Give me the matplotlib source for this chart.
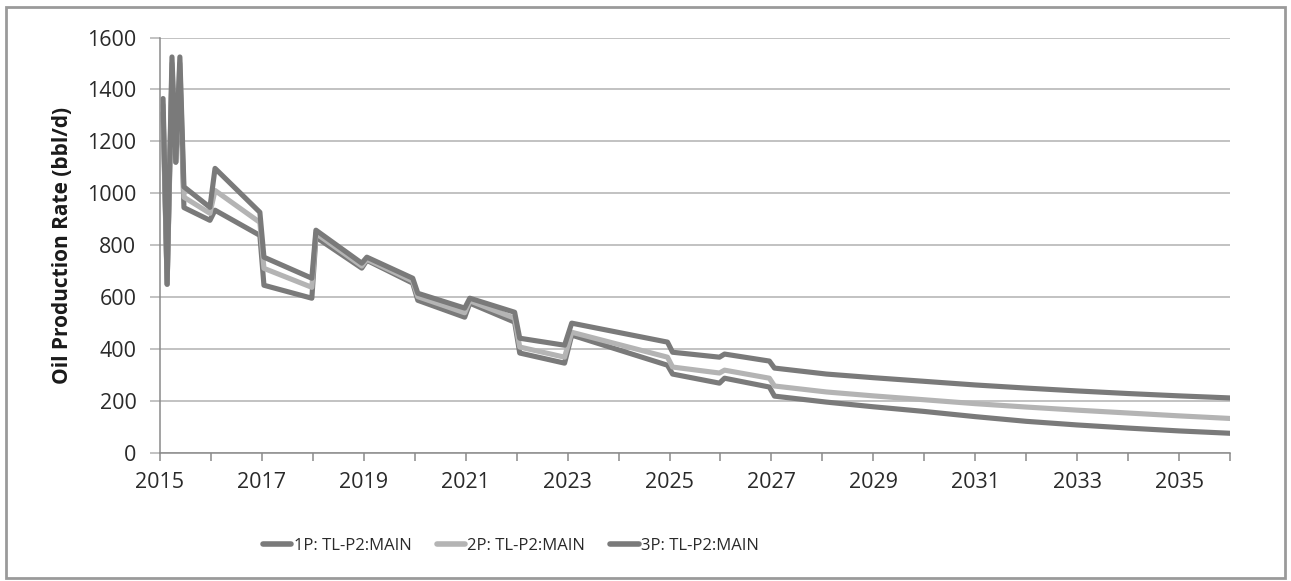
import matplotlib
matplotlib.use("Agg")
import matplotlib.pyplot as plt
from matplotlib import font_manager
from matplotlib.patches import Rectangle
from matplotlib.ticker import MultipleLocator, FuncFormatter

# Time axis in decimal years
years = [2015.06, 2015.14, 2015.235, 2015.31, 2015.39, 2015.47, 2015.98, 2016.08,
         2016.96, 2017.04, 2017.98, 2018.06, 2018.96, 2019.06, 2019.96, 2020.06,
         2020.98, 2021.08, 2021.96, 2022.06, 2022.94, 2023.08, 2024.96, 2025.06,
         2025.98, 2026.08, 2026.96, 2027.06, 2028.08, 2029.0, 2030.0, 2031.0,
         2032.0, 2033.0, 2034.0, 2035.0, 2036.0]

# Oil production rate (bbl/d) per reserve case
rate_1p = [1310, 650, 1460, 1120, 1460, 945, 896, 935,
           838, 646, 596, 831, 712, 742, 654, 588,
           523, 577, 504, 385, 346, 454, 338, 304,
           269, 288, 254, 219, 196, 178, 160, 140,
           122, 108, 96, 85, 76]
rate_2p = [1340, 650, 1500, 1120, 1500, 985, 923, 1011,
           888, 711, 638, 846, 720, 746, 662, 602,
           540, 586, 519, 408, 369, 465, 369, 331,
           308, 319, 288, 258, 235, 220, 205, 190,
           177, 165, 154, 143, 133]
rate_3p = [1365, 650, 1525, 1120, 1525, 1025, 946, 1096,
           927, 754, 673, 858, 731, 754, 673, 615,
           558, 596, 542, 442, 415, 500, 427, 388,
           369, 381, 354, 327, 304, 290, 276, 262,
           250, 239, 229, 220, 212]

series_labels = ["1P: TL-P2:MAIN", "2P: TL-P2:MAIN", "3P: TL-P2:MAIN"]
series_colors = ["#7a7a7a", "#b4b4b4", "#7a7a7a"]

plt.rcParams["font.family"] = ["Open Sans", "DejaVu Sans"]

installed = {f.name for f in font_manager.fontManager.ttflist}
if "Liberation Sans Narrow" in installed:
    legend_font = dict(family=["Liberation Sans Narrow", "DejaVu Sans"], size=13.5)
else:
    legend_font = dict(family=["Open Sans", "DejaVu Sans"], size=12)

fig = plt.figure(figsize=(12.91, 5.81), dpi=100)
ax = fig.add_axes([160 / 1291, 1 - 453 / 581, 1070 / 1291, (453 - 37.5) / 581])

for vals, lab, col in zip([rate_1p, rate_2p, rate_3p], series_labels, series_colors):
    ax.plot(years, vals, color=col, lw=3.7, label=lab,
            solid_joinstyle="round", solid_capstyle="round")

ax.set_xlim(2015, 2036)
ax.set_ylim(0, 1600)
ax.yaxis.set_major_locator(MultipleLocator(200))
ax.xaxis.set_major_locator(MultipleLocator(2, offset=1))
ax.xaxis.set_minor_locator(MultipleLocator(1))
ax.xaxis.set_major_formatter(FuncFormatter(lambda v, p: f"{int(round(v))}"))

ax.grid(axis="y", color="#b2b2b2", lw=1.1)
ax.set_axisbelow(True)
for s in ("top", "right"):
    ax.spines[s].set_visible(False)
for s in ("left", "bottom"):
    ax.spines[s].set_color("#8a8a8a")
    ax.spines[s].set_linewidth(1.1)

ax.tick_params(axis="y", length=7, width=1.1, color="#b2b2b2", pad=10,
               labelsize=15.5, labelcolor="#2a2a2a")
ax.tick_params(axis="x", which="both", length=6, width=1.1, color="#8a8a8a",
               pad=8, labelsize=15.5, labelcolor="#2a2a2a")

ax.set_ylabel("Oil Production Rate (bbl/d)", fontsize=15, fontweight="bold",
              color="#1a1a1a", labelpad=10)

leg = fig.legend(loc="center", bbox_to_anchor=(511 / 1291, 1 - 546 / 581), ncol=3,
                 frameon=False, prop=legend_font, handlelength=1.7,
                 handletextpad=0.15, columnspacing=1.5)
for t in leg.get_texts():
    t.set_color("#2a2a2a")
for h in leg.legend_handles:
    h.set_linewidth(4.0)

# Outer chart border
fig.patches.append(Rectangle((6 / 1291, 3 / 581), 1279 / 1291, 571 / 581,
                             transform=fig.transFigure, fill=False,
                             edgecolor="#9a9a9a", lw=2))

fig.savefig("out.png", dpi=100)
